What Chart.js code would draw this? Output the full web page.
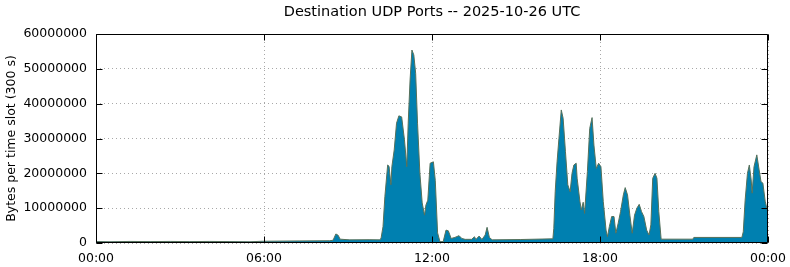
<!DOCTYPE html>
<html>
<head>
<meta charset="utf-8">
<script src="https://cdn.jsdelivr.net/npm/chart.js@4"></script>
<style>
  html, body { margin: 0; padding: 0; background: #ffffff; }
  #c { display: block; }
</style>
</head>
<body>
<canvas id="c" width="790" height="267"></canvas>
<script>
// ---- data (minutes of day, bytes per 300 s slot) ----
const chartTitle = 'Destination UDP Ports -- 2025-10-26 UTC';
const yAxisTitle = 'Bytes per time slot (300 s)';
const xTickLabels = ['00:00', '06:00', '12:00', '18:00', '00:00'];
const yTickLabels = ['0', '10000000', '20000000', '30000000', '40000000', '50000000', '60000000'];

const minutes = [
  0, 30, 73, 116, 159, 201, 244, 287, 330, 356, 437, 501, 508, 514, 519, 523, 544, 587, 609,
  611, 615, 619, 625, 628, 632, 634, 639, 644, 649, 655, 661, 666, 669, 673, 677, 681, 685, 689,
  694, 699, 704, 707, 711, 716, 723, 727, 732, 737, 744, 750, 755, 761, 769, 778, 784, 791, 805,
  811, 814, 821, 827, 834, 838, 843, 849, 909, 979,
  981, 984, 988, 992, 997, 1001, 1006, 1011, 1016, 1020, 1024, 1029, 1031, 1037, 1040, 1044, 1047,
  1053, 1058, 1063, 1067, 1072, 1077, 1082, 1087, 1093, 1096, 1100, 1105, 1110, 1114, 1119, 1124,
  1130, 1134, 1139, 1144, 1149, 1154, 1159, 1164, 1169, 1174, 1180, 1185, 1189, 1193, 1198, 1202,
  1206, 1211, 1279, 1281, 1384, 1387, 1391, 1396, 1400, 1404, 1406, 1410, 1416, 1421, 1425, 1429,
  1434, 1440
];
const bytes = [
  400000, 350000, 450000, 400000, 450000, 400000, 450000, 400000, 350000, 500000, 600000, 650000, 800000, 2600000, 2200000, 1100000, 900000, 950000, 900000,
  1500000, 4700000, 13300000, 22400000, 22000000, 16700000, 21900000, 26700000, 34400000, 36500000, 36200000, 29600000, 21900000, 34400000, 46800000, 55400000, 54000000, 48700000, 34400000,
  20100000, 11500000, 8000000, 10900000, 12300000, 22900000, 23300000, 18000000, 2900000, 400000, 400000, 3700000, 3500000, 1300000, 1600000, 2100000, 1300000, 1050000, 1050000,
  1800000, 1000000, 2000000, 1000000, 2300000, 4500000, 1600000, 900000, 1000000, 1200000,
  4200000, 14700000, 23300000, 30000000, 38200000, 35800000, 26200000, 16700000, 14700000, 20000000, 22400000, 22900000, 18600000, 11900000, 9500000, 11700000, 8500000,
  20500000, 32900000, 36000000, 28100000, 21400000, 22900000, 21900000, 11900000, 3700000, 1800000, 4700000, 7600000, 7600000, 2800000, 5700000, 9000000,
  13800000, 15900000, 13800000, 8000000, 2800000, 8000000, 10000000, 11100000, 9000000, 7600000, 3700000, 2300000, 5200000, 18600000, 20000000, 18600000,
  9000000, 1100000, 1100000, 1600000, 1600000, 3200000, 12300000, 20000000, 22400000, 18100000, 14300000, 21900000, 25300000, 21000000, 17600000, 17200000,
  12000000, 8500000
];

const points = minutes.map((m, i) => ({ x: m, y: bytes[i] }));

const FONT = 'DejaVu Sans';

// frame + inward ticks (gnuplot style)
const framePlugin = {
  id: 'frame',
  afterDatasetsDraw(chart) {
    const { ctx, chartArea: a, scales } = chart;
    ctx.save();
    ctx.strokeStyle = '#000000';
    ctx.lineWidth = 1;
    const L = Math.round(a.left) + 0.5, R = Math.round(a.right) - 0.5;
    const T = Math.round(a.top) + 0.5, B = Math.round(a.bottom) - 0.5;
    ctx.beginPath();
    ctx.rect(L, T, R - L, B - T);
    ctx.stroke();
    const tl = 6;
    ctx.beginPath();
    scales.y.ticks.forEach(t => {
      const y = Math.round(scales.y.getPixelForValue(t.value)) + 0.5;
      ctx.moveTo(L, y); ctx.lineTo(L + tl, y);
      ctx.moveTo(R, y); ctx.lineTo(R - tl, y);
    });
    scales.x.ticks.forEach(t => {
      const x = Math.round(scales.x.getPixelForValue(t.value)) + 0.5;
      ctx.moveTo(x, B); ctx.lineTo(x, B - tl);
      ctx.moveTo(x, T); ctx.lineTo(x, T + tl);
    });
    ctx.stroke();
    ctx.restore();
  }
};

new Chart(document.getElementById('c'), {
  type: 'line',
  data: {
    datasets: [{
      data: points,
      fill: 'origin',
      backgroundColor: '#0080b0',
      borderColor: '#55705a',
      borderWidth: 1,
      pointRadius: 0,
      tension: 0
    }]
  },
  plugins: [framePlugin],
  options: {
    responsive: false,
    animation: false,
    devicePixelRatio: 1,
    layout: { padding: { left: 0, right: 22, top: 0, bottom: 0 } },
    plugins: {
      legend: { display: false },
      tooltip: { enabled: false },
      title: {
        display: true,
        text: chartTitle,
        fullSize: false,
        color: '#000000',
        font: { family: FONT, size: 14.5, weight: 'normal' },
        padding: { top: 4, bottom: 12.6 }
      }
    },
    scales: {
      x: {
        type: 'linear',
        min: 0,
        max: 1440,
        afterFit(scale) { scale.height = 24; scale.paddingLeft = 0; scale.paddingRight = 0; },
        afterBuildTicks(scale) {
          scale.ticks = xTickLabels.map((_, i) => ({ value: i * 360 }));
        },
        ticks: {
          color: '#000000',
          font: { family: FONT, size: 12.5 },
          padding: 8,
          maxRotation: 0,
          autoSkip: false,
          callback: (v, i) => xTickLabels[i]
        },
        grid: { color: '#a8a8a8', lineWidth: 1, drawTicks: false },
        border: { display: false, dash: [1, 3] }
      },
      y: {
        min: 0,
        max: 60000000,
        afterFit(scale) { scale.width = 96; scale.paddingTop = 0; scale.paddingBottom = 0; },
        afterBuildTicks(scale) {
          scale.ticks = yTickLabels.map((_, i) => ({ value: i * 10000000 }));
        },
        ticks: {
          color: '#000000',
          font: { family: FONT, size: 12.5 },
          padding: 9,
          autoSkip: false,
          callback: (v, i) => yTickLabels[i]
        },
        title: {
          display: true,
          text: yAxisTitle,
          color: '#000000',
          font: { family: FONT, size: 12.5 },
          padding: { top: 4.5, bottom: 0 }
        },
        grid: { color: '#a8a8a8', lineWidth: 1, drawTicks: false },
        border: { display: false, dash: [1, 3] }
      }
    }
  }
});
</script>
</body>
</html>
